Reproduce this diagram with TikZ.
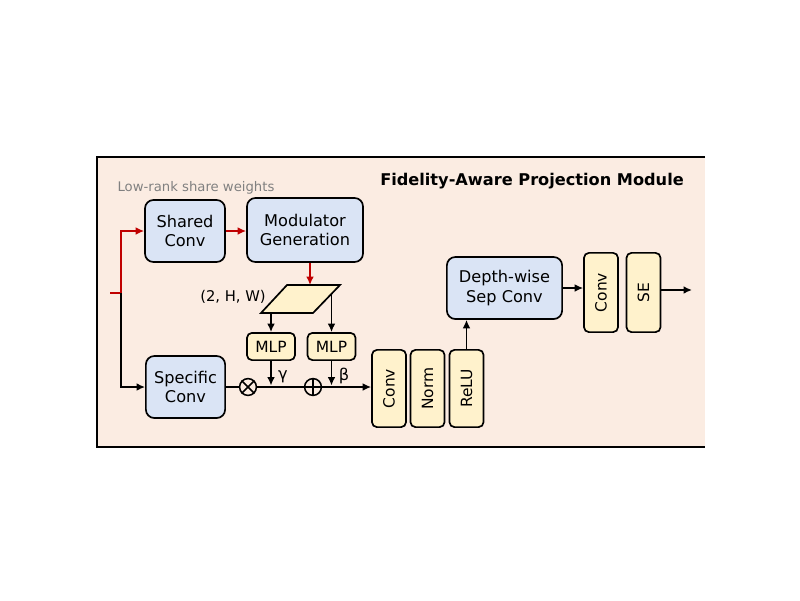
\documentclass[tikz,border=0pt]{standalone}
\usepackage{fontspec}
\setmainfont{DejaVu Sans}
\usepackage{graphicx}
\usepackage{tikz}
\usetikzlibrary{arrows.meta}
\definecolor{panel}{RGB}{251,236,226}
\definecolor{convblue}{RGB}{218,228,245}
\definecolor{opyellow}{RGB}{255,242,204}
\definecolor{wred}{RGB}{192,0,0}
\definecolor{lowgray}{RGB}{128,128,128}
\tikzstyle{block} = [rectangle, rounded corners=6pt, draw=black, line width=1.2pt, fill=convblue, align=center, font=\fontsize{11.5}{14}\selectfont]
\tikzstyle{opbox} = [rectangle, rounded corners=3.5pt, draw=black, line width=1.2pt, fill=opyellow, align=center, inner sep=0pt, font=\fontsize{11}{13}\selectfont]
\tikzstyle{mlpbox} = [opbox, minimum width=1.2cm, minimum height=0.68cm]
\tikzstyle{vbox} = [opbox, minimum width=0.85cm, minimum height=1.93cm]
\tikzstyle{opnode} = [circle, draw=black, line width=1.1pt, minimum size=0.42cm, inner sep=0pt]
\tikzstyle{flow} = [-{Latex[length=6pt,width=5.5pt]}, line width=1.1pt]
\tikzstyle{wflow} = [flow, draw=wred]

\begin{document}
\begin{tikzpicture}[x=0.025cm, y=-0.025cm]
\useasboundingbox (0,0) rectangle (800,600);

% panel (open on the right)
\fill[panel] (97,157) rectangle (705,447);
\draw[line width=1.5pt] (705,157) -- (97,157) -- (97,447) -- (705,447);
\node[font=\bfseries\fontsize{11.5}{14}\selectfont] (title) at (532,181) {Fidelity-Aware Projection Module};
\node[text=lowgray, font=\fontsize{9.4}{11}\selectfont] (lowrank) at (196,188) {Low-rank share weights};

% conv blocks
\node[block, minimum width=2cm, minimum height=1.55cm] (sconv) at (185,231) {Shared\\Conv};
\node[block, minimum width=2.9cm, minimum height=1.6cm] (modgen) at (305,230) {Modulator\\Generation};
\node[block, minimum width=1.98cm, minimum height=1.55cm] (spconv) at (185.5,387) {Specific\\Conv};
\node[block, minimum width=2.88cm, minimum height=1.55cm] (dwconv) at (504.5,288) {Depth-wise\\Sep Conv};

% modulation map
\coordinate (fa) at (287,285);
\coordinate (fb) at (340,285);
\coordinate (fc) at (313,313);
\coordinate (fd) at (261,313);
\draw[line width=1.2pt, fill=opyellow] (fa) -- (fb) -- (fc) -- (fd) -- cycle;
\node[font=\fontsize{10.5}{12}\selectfont] (shape) at (233,297) {(2, H, W)};
\coordinate (fin) at (310,285);
\coordinate (fg) at (271,313);
\coordinate (fbeta) at (331.5,293.5);

% MLPs and operators
\node[mlpbox] (mlpg) at (271,346.5) {MLP};
\node[mlpbox] (mlpb) at (331.5,346.5) {MLP};
\node[opnode] (mul) at (248,387) {};
\draw[line width=1.1pt] (mul.north west) -- (mul.south east) (mul.north east) -- (mul.south west);
\node[opnode] (add) at (313,387) {};
\draw[line width=1.1pt] (add.north) -- (add.south) (add.west) -- (add.east);
\coordinate (gam) at (271,385.5);
\coordinate (bet) at (331.5,385.5);
\node[font=\fontsize{11.5}{13}\selectfont] (gl) at (283,377) {γ};
\node[font=\fontsize{11.5}{13}\selectfont] (bl) at (344,376) {β};

% vertical layers
\node[vbox] (conv) at (389,388.5) {\rotatebox{90}{Conv}};
\node[vbox] (norm) at (427.5,388.5) {\rotatebox{90}{Norm}};
\node[vbox] (relu) at (466.5,388.5) {\rotatebox{90}{ReLU}};
\node[vbox, minimum height=1.98cm] (conv2) at (601,292.5) {\rotatebox{90}{Conv}};
\node[vbox, minimum height=1.98cm] (se) at (643.5,292.5) {\rotatebox{90}{SE}};

% input split
\coordinate (in) at (110,293);
\coordinate (split) at (121,293);
\coordinate (out) at (692,290);

% connectors
\draw[wred, line width=1.1pt] (in) -- (split);
\draw[wflow] (split) |- (sconv.west);
\draw[flow] (split) |- (spconv.west);
\draw[wflow] (sconv.east) -- (sconv.east -| modgen.west);
\draw[wflow] (fin |- modgen.south) -- (fin);
\draw[flow] (fg) -- (mlpg.north);
\draw[flow] (fbeta) -- (mlpb.north);
\draw[flow] (mlpg.south) -- (gam);
\draw[flow] (mlpb.south) -- (bet);
\draw[line width=1.1pt] (spconv.east) -- (mul.west);
\draw[line width=1.1pt] (mul.east) -- (add.west);
\draw[flow] (add.east) -- (add.east -| conv.west);
\draw[flow] (relu.north) -- (relu.north |- dwconv.south);
\draw[flow] (dwconv.east) -- (dwconv.east -| conv2.west);
\draw[flow] (se.east |- out) -- (out);
\end{tikzpicture}
\end{document}
